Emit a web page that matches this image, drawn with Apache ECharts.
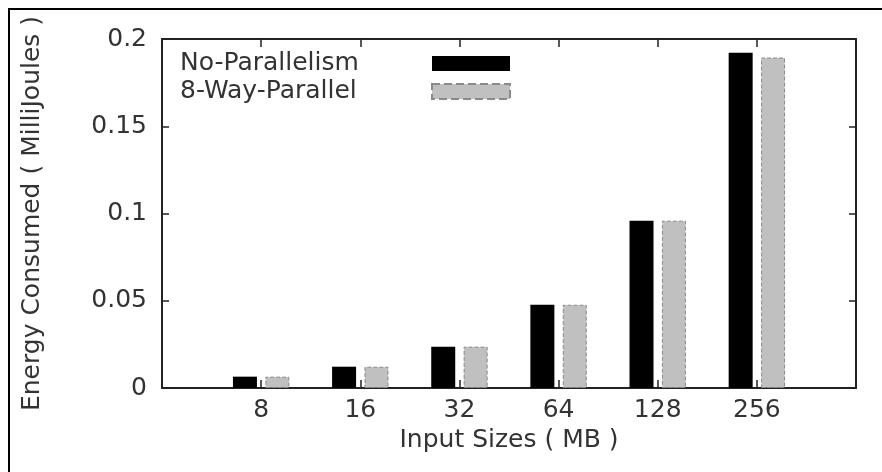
<!DOCTYPE html>
<html>
<head>
<meta charset="utf-8">
<script src="https://cdn.jsdelivr.net/npm/echarts@6/dist/echarts.min.js"></script>
<style>
html,body{margin:0;padding:0;background:#fff;}
#chart{width:882px;height:472px;}
</style>
</head>
<body>
<div id="chart"></div>
<script>
const categories = ['8', '16', '32', '64', '128', '256'];
const noParallelism = [0.0065, 0.0122, 0.0237, 0.0477, 0.0959, 0.1921];
const eightWayParallel = [0.0065, 0.0122, 0.0237, 0.0477, 0.0959, 0.1894];
const seriesNames = ['No-Parallelism', '8-Way-Parallel'];
const yTicks = { min: 0, max: 0.2, interval: 0.05 };
const xTitle = 'Input Sizes ( MB )';
const yTitle = 'Energy Consumed ( MilliJoules )';

// pad categories so the axis has empty room at both ends
const axisCats = [''].concat(categories, ['']);
const pad = arr => [null].concat(arr, [null]);

const FONT = 'DejaVu Sans';
const TXT = '#333';
const LINE = '#222';

const tickX = () => ({ show: true, inside: true, length: 8, interval: 0, lineStyle: { color: LINE, width: 1.5 } });
const tickY = () => ({ show: true, inside: true, length: 7, lineStyle: { color: LINE, width: 1.5 } });

const chart = echarts.init(document.getElementById('chart'), null, { renderer: 'canvas' });
chart.setOption({
  animation: false,
  backgroundColor: '#fff',
  graphic: [{
    type: 'rect',
    shape: { x: 9, y: 9, width: 900, height: 500 },
    style: { fill: 'none', stroke: '#000', lineWidth: 2 },
    silent: true
  }],
  grid: { left: 162, top: 39, right: 26, bottom: 84, containLabel: false },
  legend: {
    orient: 'vertical',
    left: 180,
    top: 51,
    padding: 0,
    itemGap: 3,
    align: 'right',
    icon: 'rect',
    itemWidth: 78,
    itemHeight: 15,
    selectedMode: false,
    itemStyle: { borderType: 'dashed' },
    formatter: name => '{a|' + name + '}',
    textStyle: {
      rich: { a: { width: 247, align: 'left', fontFamily: FONT, fontSize: 25, color: TXT, lineHeight: 28 } }
    },
    data: seriesNames
  },
  xAxis: [{
    type: 'category',
    data: axisCats,
    boundaryGap: false,
    position: 'bottom',
    axisLine: { show: true, onZero: false, lineStyle: { color: LINE, width: 2 } },
    axisTick: tickX(),
    axisLabel: { fontFamily: FONT, fontSize: 25, color: TXT, margin: 10, interval: 0 },
    splitLine: { show: false },
    name: xTitle,
    nameLocation: 'middle',
    nameGap: 35,
    nameTextStyle: { fontFamily: FONT, fontSize: 25, color: TXT }
  }, {
    type: 'category',
    data: axisCats,
    boundaryGap: false,
    position: 'top',
    axisLine: { show: true, onZero: false, lineStyle: { color: LINE, width: 2 } },
    axisTick: tickX(),
    axisLabel: { show: false },
    splitLine: { show: false }
  }],
  yAxis: [{
    type: 'value',
    min: yTicks.min,
    max: yTicks.max,
    interval: yTicks.interval,
    position: 'left',
    axisLine: { show: true, onZero: false, lineStyle: { color: LINE, width: 2 } },
    axisTick: tickY(),
    axisLabel: { fontFamily: FONT, fontSize: 25, color: TXT, margin: 15 },
    splitLine: { show: false },
    name: yTitle,
    nameLocation: 'middle',
    nameGap: 117,
    nameTextStyle: { fontFamily: FONT, fontSize: 25, color: TXT }
  }, {
    type: 'value',
    min: yTicks.min,
    max: yTicks.max,
    interval: yTicks.interval,
    position: 'right',
    axisLine: { show: true, onZero: false, lineStyle: { color: LINE, width: 2 } },
    axisTick: tickY(),
    axisLabel: { show: false },
    splitLine: { show: false }
  }],
  series: [{
    name: seriesNames[0],
    type: 'bar',
    xAxisIndex: 0,
    yAxisIndex: 0,
    data: pad(noParallelism),
    barWidth: 24,
    barGap: '35%',
    z: 3,
    itemStyle: { color: '#000' }
  }, {
    name: seriesNames[1],
    type: 'bar',
    xAxisIndex: 0,
    yAxisIndex: 0,
    data: pad(eightWayParallel),
    barWidth: 24,
    barGap: '35%',
    z: 3,
    itemStyle: { color: '#c0c0c0', borderColor: '#8a8a8a', borderWidth: 1, borderType: 'dashed' }
  }]
});
</script>
</body>
</html>
